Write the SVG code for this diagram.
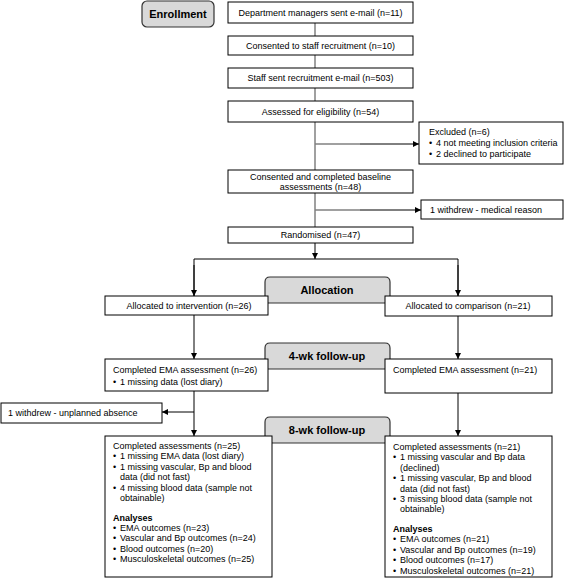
<svg xmlns="http://www.w3.org/2000/svg" width="567" height="587" viewBox="0 0 567 587">
<defs>
<marker id="ah" viewBox="0 0 10 10" refX="10" refY="5" markerWidth="6" markerHeight="6" markerUnits="userSpaceOnUse" orient="auto"><path d="M0,0 L10,5 L0,10 Z" fill="#000"/></marker>
</defs>
<style>
text{font-family:"Liberation Sans",Arial,sans-serif;font-size:9px;fill:#000}
.c{text-anchor:middle}
.h{font-weight:bold;font-size:11px;text-anchor:middle}
.box{fill:#fff;stroke:#000;stroke-width:1}
.tab{fill:#d9d9d9;stroke:#333;stroke-width:1.2}
.g{stroke:#808080;stroke-width:1.5;fill:none}
.k{stroke:#000;stroke-width:1;fill:none}
.a{stroke:#000;stroke-width:1;fill:none;marker-end:url(#ah)}
</style>
<rect width="567" height="587" fill="#fff"/>

<g id="connectors">
<line class="g" x1="315" y1="23" x2="315" y2="36"/>
<line class="g" x1="315" y1="55" x2="315" y2="68"/>
<line class="g" x1="315" y1="88" x2="315" y2="101"/>
<line class="g" x1="315" y1="122" x2="315" y2="170"/>
<line class="g" x1="315" y1="193" x2="315" y2="227"/>
<line class="g" x1="315" y1="144" x2="360" y2="144"/>
<line class="a" x1="360" y1="144" x2="419" y2="144"/>
<line class="g" x1="315" y1="210" x2="360" y2="210"/>
<line class="a" x1="360" y1="210" x2="421" y2="210"/>
<line class="a" x1="315" y1="243" x2="315" y2="259"/>
<polyline class="k" points="194,296 194,259 458,259 458,296"/>
<line class="a" x1="194" y1="265" x2="194" y2="296"/>
<line class="a" x1="458" y1="265" x2="458" y2="296"/>
<line class="a" x1="194" y1="315" x2="194" y2="359"/>
<line class="a" x1="458" y1="316" x2="458" y2="359"/>
<line class="a" x1="194" y1="391" x2="194" y2="436"/>
<line class="a" x1="194" y1="412" x2="162" y2="412"/>
<line class="a" x1="458" y1="393" x2="458" y2="436"/>
</g>

<g id="enrollment">
<rect x="142" y="1" width="72" height="26" rx="5" fill="#d9d9d9" stroke="#333" stroke-width="1.2"/>
<text class="h" x="178" y="18">Enrollment</text>
</g>

<g id="tab-allocation">
<path class="tab" d="M265,303 L265,282 Q265,277 270,277 L385,277 Q390,277 390,282 L390,303 Z"/>
<text class="h" x="327" y="294">Allocation</text>
</g>
<g id="tab-4wk">
<path class="tab" d="M265,369 L265,348 Q265,343 270,343 L385,343 Q390,343 390,348 L390,369 Z"/>
<text class="h" x="327" y="360">4-wk follow-up</text>
</g>
<g id="tab-8wk">
<path class="tab" d="M265,443 L265,422 Q265,417 270,417 L385,417 Q390,417 390,422 L390,443 Z"/>
<text class="h" x="327" y="434">8-wk follow-up</text>
</g>

<g id="dept">
<rect class="box" x="228" y="2" width="185" height="21"/>
<text class="c" x="320.5" y="15.5">Department managers sent e-mail (n=11)</text>
</g>
<g id="consent-staff">
<rect class="box" x="228" y="36" width="185" height="19"/>
<text class="c" x="320.5" y="48.5">Consented to staff recruitment (n=10)</text>
</g>
<g id="staff-sent">
<rect class="box" x="228" y="68" width="185" height="20"/>
<text class="c" x="320.5" y="81">Staff sent recruitment e-mail (n=503)</text>
</g>
<g id="assessed">
<rect class="box" x="228" y="101" width="185" height="21"/>
<text class="c" x="320.5" y="114.5">Assessed for eligibility (n=54)</text>
</g>
<g id="excluded">
<rect class="box" x="419" y="122" width="144" height="42"/>
<text x="429" y="135">Excluded (n=6)</text>
<text x="429" y="146">•</text><text x="436" y="146">4 not meeting inclusion criteria</text>
<text x="429" y="157">•</text><text x="436" y="157">2 declined to participate</text>
</g>
<g id="baseline">
<rect class="box" x="228" y="170" width="185" height="23"/>
<text class="c" x="320.5" y="179.5">Consented and completed baseline</text>
<text class="c" x="320.5" y="190">assessments (n=48)</text>
</g>
<g id="withdrew-medical">
<rect class="box" x="421" y="200" width="142" height="19"/>
<text x="430" y="212.5">1 withdrew - medical reason</text>
</g>
<g id="randomised">
<rect class="box" x="228" y="227" width="185" height="16"/>
<text class="c" x="320.5" y="238">Randomised (n=47)</text>
</g>
<g id="alloc-int">
<rect class="box" x="105" y="296" width="163" height="19"/>
<text class="c" x="189" y="308.5">Allocated to intervention (n=26)</text>
</g>
<g id="alloc-comp">
<rect class="box" x="385" y="296" width="167" height="20"/>
<text class="c" x="468" y="308.5">Allocated to comparison (n=21)</text>
</g>
<g id="ema-int">
<rect class="box" x="105" y="359" width="163" height="32"/>
<text x="113" y="373">Completed EMA assessment (n=26)</text>
<text x="113" y="385">•</text><text x="120" y="385">1 missing data (lost diary)</text>
</g>
<g id="ema-comp">
<rect class="box" x="385" y="359" width="167" height="34"/>
<text x="393" y="373">Completed EMA assessment (n=21)</text>
</g>
<g id="withdrew-unplanned">
<rect class="box" x="1" y="403" width="161" height="20"/>
<text x="8" y="416">1 withdrew - unplanned absence</text>
</g>
<g id="final-int">
<rect class="box" x="105" y="436" width="167" height="141"/>
<text x="113" y="449">Completed assessments (n=25)</text>
<text x="113" y="459.4">•</text><text x="120" y="459.4">1 missing EMA data (lost diary)</text>
<text x="113" y="469.8">•</text><text x="120" y="469.8">1 missing vascular, Bp and blood</text>
<text x="120" y="480.2">data (did not fast)</text>
<text x="113" y="490.6">•</text><text x="120" y="490.6">4 missing blood data (sample not</text>
<text x="120" y="501">obtainable)</text>
<text x="113" y="520.5" font-weight="bold">Analyses</text>
<text x="113" y="531">•</text><text x="120" y="531">EMA outcomes (n=23)</text>
<text x="113" y="541.4">•</text><text x="120" y="541.4">Vascular and Bp outcomes (n=24)</text>
<text x="113" y="551.8">•</text><text x="120" y="551.8">Blood outcomes (n=20)</text>
<text x="113" y="562.2">•</text><text x="120" y="562.2">Musculoskeletal outcomes (n=25)</text>
</g>
<g id="final-comp">
<rect class="box" x="385" y="436" width="167" height="141"/>
<text x="393" y="450">Completed assessments (n=21)</text>
<text x="393" y="460.4">•</text><text x="400" y="460.4">1 missing vascular and Bp data</text>
<text x="400" y="470.8">(declined)</text>
<text x="393" y="481.2">•</text><text x="400" y="481.2">1 missing vascular, Bp and blood</text>
<text x="400" y="491.6">data (did not fast)</text>
<text x="393" y="502">•</text><text x="400" y="502">3 missing blood data (sample not</text>
<text x="400" y="512.4">obtainable)</text>
<text x="393" y="532" font-weight="bold">Analyses</text>
<text x="393" y="542.4">•</text><text x="400" y="542.4">EMA outcomes (n=21)</text>
<text x="393" y="552.8">•</text><text x="400" y="552.8">Vascular and Bp outcomes (n=19)</text>
<text x="393" y="563.2">•</text><text x="400" y="563.2">Blood outcomes (n=17)</text>
<text x="393" y="573.6">•</text><text x="400" y="573.6">Musculoskeletal outcomes (n=21)</text>
</g>
</svg>
